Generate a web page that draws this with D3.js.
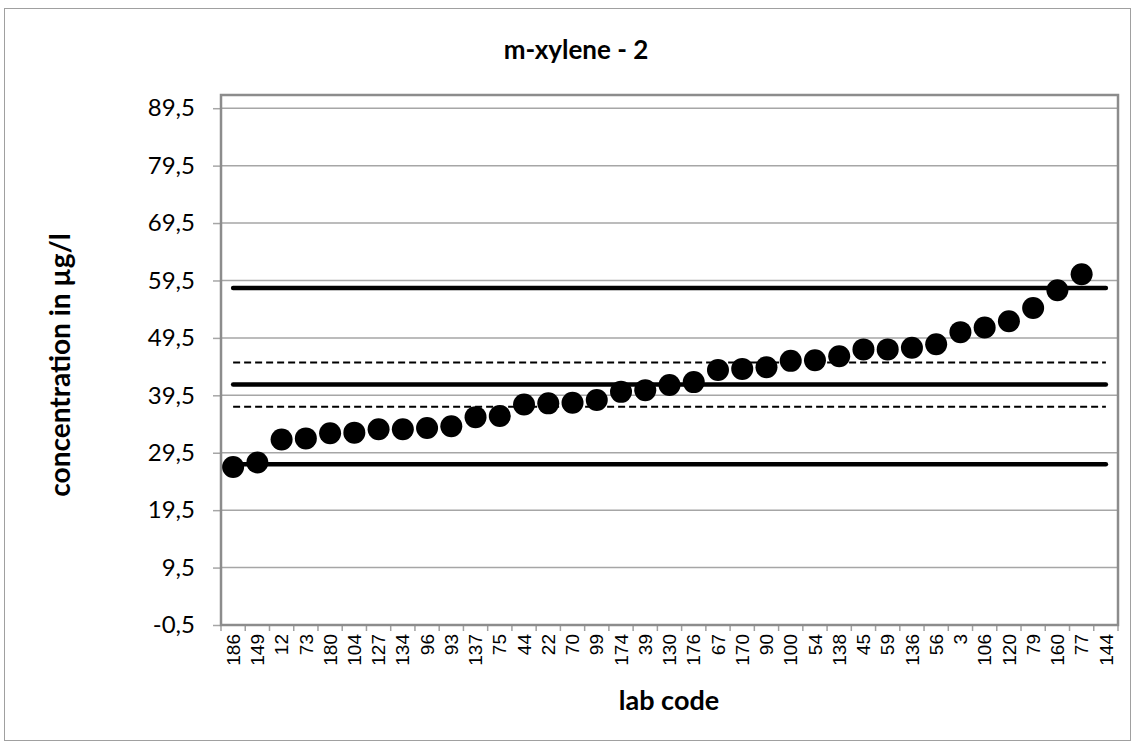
<!DOCTYPE html>
<html>
  <head>
    <meta charset="utf-8">
    <title>m-xylene - 2</title>
    <script type="text/javascript" src="https://d3js.org/d3.v7.min.js"></script>
    <style>
      body { margin: 0; background: #fff; }
    </style>
  </head>
  <body>
    <div id="chart"></div>
    <script type="text/javascript">
      // lab codes in plotted order
      var labCodes = ["186", "149", "12", "73", "180", "104", "127", "134", "96", "93",
        "137", "75", "44", "22", "70", "99", "174", "39", "130", "176", "67", "170",
        "90", "100", "54", "138", "45", "59", "136", "56", "3", "106", "120", "79",
        "160", "77", "144"];
      // measured values (144 has no value)
      var values = [27.0, 27.8, 31.8, 32.0, 32.9, 33.0, 33.6, 33.6, 33.8, 34.1,
        35.7, 35.9, 37.9, 38.1, 38.2, 38.7, 40.1, 40.4, 41.3, 41.8, 43.9, 44.1,
        44.4, 45.5, 45.6, 46.3, 47.5, 47.5, 47.8, 48.4, 50.5, 51.3, 52.4, 54.7,
        57.8, 60.6, null];
      // reference lines: limits and mean (solid), +- band (dashed)
      var solidLines = [58.2, 41.4, 27.5];
      var dashedLines = [45.2, 37.5];
      var yTicks = [-0.5, 9.5, 19.5, 29.5, 39.5, 49.5, 59.5, 69.5, 79.5, 89.5];

      var width = 1139, height = 747;
      var margin = {top: 95, right: 21, bottom: 122, left: 221};
      var x0 = margin.left, x1 = width - margin.right;
      var y0 = height - margin.bottom, y1 = margin.top;

      var svg = d3.select("#chart").append("svg")
        .attr("width", width)
        .attr("height", height)
        .style("font-family", "'Liberation Sans', Arial, sans-serif");

      // outer chart border
      svg.append("rect")
        .attr("x", 4.5).attr("y", 8.5)
        .attr("width", 1126).attr("height", 732)
        .attr("fill", "#fff")
        .attr("stroke", "#a0a0a0").attr("stroke-width", 1);

      var x = d3.scaleBand().domain(labCodes).range([x0, x1]);
      var y = d3.scaleLinear().domain([-0.5, 91.8]).range([y0, y1]);

      // gridlines
      svg.append("g").selectAll("line")
        .data(yTicks)
        .enter().append("line")
          .attr("x1", x0).attr("x2", x1)
          .attr("y1", function(d){ return y(d); })
          .attr("y2", function(d){ return y(d); })
          .attr("stroke", "#a6a6a6").attr("stroke-width", 1.5);

      // y axis
      var yAxis = svg.append("g")
        .attr("transform", "translate(" + x0 + ",0)")
        .call(d3.axisLeft(y).tickValues(yTicks).tickSize(8).tickPadding(18)
          .tickFormat(function(d){ return d.toFixed(1).replace(".", ","); }));
      yAxis.select(".domain").remove();
      yAxis.selectAll(".tick line").attr("stroke", "#a6a6a6").attr("stroke-width", 1.5);
      yAxis.selectAll("text")
        .style("font-family", "Lato, 'Open Sans', sans-serif")
        .style("font-size", "24px").attr("fill", "#000");

      // x axis
      var xAxis = svg.append("g")
        .attr("transform", "translate(0," + y0 + ")")
        .call(d3.axisBottom(x).tickSize(0).tickPadding(0));
      xAxis.select(".domain").remove();
      xAxis.selectAll("text")
        .attr("transform", "rotate(-90)")
        .attr("x", -9).attr("y", 0).attr("dy", "0.35em")
        .style("text-anchor", "end")
        .style("font-size", "19px").attr("fill", "#000");

      // category boundary ticks
      var bounds = labCodes.map(function(d){ return x(d); }).concat([x1]);
      svg.append("g").selectAll("line")
        .data(bounds)
        .enter().append("line")
          .attr("x1", function(d){ return d; }).attr("x2", function(d){ return d; })
          .attr("y1", y0).attr("y2", y0 + 6)
          .attr("stroke", "#a0a0a0").attr("stroke-width", 1.5);

      // plot area border
      svg.append("rect")
        .attr("x", x0).attr("y", y1)
        .attr("width", x1 - x0).attr("height", y0 - y1)
        .attr("fill", "none")
        .attr("stroke", "#8c8c8c").attr("stroke-width", 2.5);

      var cFirst = x(labCodes[0]) + x.bandwidth() / 2;
      var cLast = x(labCodes[labCodes.length - 1]) + x.bandwidth() / 2;

      svg.append("g").selectAll("line")
        .data(dashedLines)
        .enter().append("line")
          .attr("x1", cFirst).attr("x2", cLast)
          .attr("y1", function(d){ return y(d); })
          .attr("y2", function(d){ return y(d); })
          .attr("stroke", "#000").attr("stroke-width", 2)
          .attr("stroke-dasharray", "7,4");

      svg.append("g").selectAll("line")
        .data(solidLines)
        .enter().append("line")
          .attr("x1", cFirst).attr("x2", cLast)
          .attr("y1", function(d){ return y(d); })
          .attr("y2", function(d){ return y(d); })
          .attr("stroke", "#000").attr("stroke-width", 4.5)
          .attr("stroke-linecap", "round");

      // points
      svg.append("g").selectAll("circle")
        .data(values.map(function(v, i){ return {code: labCodes[i], v: v}; })
          .filter(function(d){ return d.v !== null; }))
        .enter().append("circle")
          .attr("cx", function(d){ return x(d.code) + x.bandwidth() / 2; })
          .attr("cy", function(d){ return y(d.v); })
          .attr("r", 11)
          .attr("fill", "#000");

      // titles
      svg.append("text")
        .attr("x", 576).attr("y", 59)
        .attr("text-anchor", "middle")
        .style("font-family", "Lato, 'Open Sans', sans-serif")
        .style("font-weight", "bold").style("font-size", "26px")
        .text("m-xylene - 2");

      svg.append("text")
        .attr("transform", "translate(70,365) rotate(-90)")
        .attr("text-anchor", "middle")
        .style("font-family", "Lato, 'Open Sans', sans-serif")
        .style("font-weight", "bold").style("font-size", "28px")
        .text("concentration in µg/l");

      svg.append("text")
        .attr("x", 669).attr("y", 710)
        .attr("text-anchor", "middle")
        .style("font-family", "Lato, 'Open Sans', sans-serif")
        .style("font-weight", "bold").style("font-size", "27px")
        .text("lab code");
    </script>
  </body>
</html>
